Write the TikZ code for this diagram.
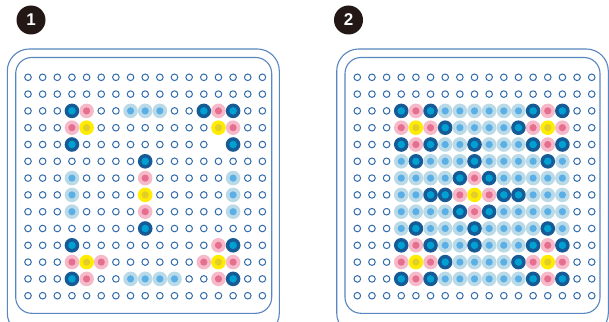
\documentclass[tikz,border=0pt]{standalone}
\usepackage{fontspec}
\newfontfamily\badgefont{Liberation Sans}
\definecolor{pegcol}{RGB}{50,108,170}
\definecolor{framecol}{RGB}{88,134,190}
\definecolor{darkout}{RGB}{22,90,150}
\definecolor{darkin}{RGB}{0,160,210}
\definecolor{pinkout}{RGB}{245,185,202}
\definecolor{pinkin}{RGB}{230,110,142}
\definecolor{yelout}{RGB}{255,236,0}
\definecolor{yelin}{RGB}{226,206,40}
\definecolor{lightout}{RGB}{186,218,232}
\definecolor{lightin}{RGB}{90,175,230}
\definecolor{badgecol}{RGB}{35,24,21}
\tikzset{
  frame/.style={draw=framecol, line width=1.1pt},
  badge/.style={circle, fill=badgecol, text=white, minimum size=29pt, inner sep=0pt,
    font=\badgefont\bfseries\fontsize{17}{17}\selectfont},
  peg/.pic={\draw[draw=pegcol, line width=1pt, fill=white] (0,0) circle[radius=3.3pt];},
  dbead/.pic={\fill[fill=darkout] (0,0) circle[radius=7.3pt]; \fill[fill=darkin] (0,0) circle[radius=3.8pt];},
  pbead/.pic={\fill[fill=pinkout] (0,0) circle[radius=7.3pt]; \fill[fill=pinkin] (0,0) circle[radius=3.6pt];},
  ybead/.pic={\fill[fill=yelout] (0,0) circle[radius=7.3pt]; \fill[fill=yelin] (0,0) circle[radius=3.6pt];},
  lbead/.pic={\fill[fill=lightout] (0,0) circle[radius=7.3pt]; \fill[fill=lightin] (0,0) circle[radius=3.6pt];},
}
% #1 = x of first column, #2 = row index, #3 = 17 comma-separated types
\newcommand\myrow[3]{%
  \foreach \t [count=\c from 0] in {#3} {
    \if\t D \pic at ({#1+\c*14.65},{77.3+#2*16.8}) {dbead};\fi
    \if\t P \pic at ({#1+\c*14.65},{77.3+#2*16.8}) {pbead};\fi
    \if\t Y \pic at ({#1+\c*14.65},{77.3+#2*16.8}) {ybead};\fi
    \if\t L \pic at ({#1+\c*14.65},{77.3+#2*16.8}) {lbead};\fi
    \if\t o \pic at ({#1+\c*14.65},{77.3+#2*16.8}) {peg};\fi
  }%
}
\begin{document}
\begin{tikzpicture}[x=1pt,y=-1pt]
\useasboundingbox (0,0) rectangle (609,321);
\clip (0,0) rectangle (609,321);
\fill[white] (0,0) rectangle (609,321);

% badges
\node[badge] (n1) at (31,20) {1};
\node[badge] (n2) at (348.5,20) {2};

% frames
\draw[frame, rounded corners=22pt] (7.3,49) rectangle (279.3,335);
\draw[frame, rounded corners=16pt] (15.7,57.5) rectangle (271.7,313.3);
\draw[frame, rounded corners=22pt] (336.7,49) rectangle (608.3,335);
\draw[frame, rounded corners=16pt] (345,57.5) rectangle (600,313.3);

% panel 1
\myrow{28}{0}{o,o,o,o,o,o,o,o,o,o,o,o,o,o,o,o,o}
\myrow{28}{1}{o,o,o,o,o,o,o,o,o,o,o,o,o,o,o,o,o}
\myrow{28}{2}{o,o,o,D,P,o,o,L,L,L,o,o,D,P,D,o,o}
\myrow{28}{3}{o,o,o,P,Y,o,o,o,o,o,o,o,o,Y,P,o,o}
\myrow{28}{4}{o,o,o,D,o,o,o,o,o,o,o,o,o,x,D,o,o}
\myrow{28}{5}{o,o,o,o,o,o,o,o,D,o,o,o,o,o,o,o,o}
\myrow{28}{6}{o,o,o,L,o,o,o,o,P,o,o,o,o,o,L,o,o}
\myrow{28}{7}{o,o,o,L,o,o,o,o,Y,o,o,o,o,o,L,o,o}
\myrow{28}{8}{o,o,o,L,o,o,o,o,P,o,o,o,o,o,L,o,o}
\myrow{28}{9}{o,o,o,o,o,o,o,o,D,o,o,o,o,o,o,o,o}
\myrow{28}{10}{o,o,o,D,o,o,o,o,o,o,o,o,o,P,D,o,o}
\myrow{28}{11}{o,o,o,P,Y,P,o,o,o,o,o,o,P,Y,P,o,o}
\myrow{28}{12}{o,o,o,D,P,o,o,L,L,L,L,o,o,P,D,o,o}
\myrow{28}{13}{o,o,o,o,o,o,o,o,o,o,o,o,o,o,o,o,o}

% panel 2
\myrow{357.3}{0}{o,o,o,o,o,o,o,o,o,o,o,o,o,o,o,o,o}
\myrow{357.3}{1}{o,o,o,o,o,o,o,o,o,o,o,o,o,o,o,o,o}
\myrow{357.3}{2}{o,o,o,D,P,D,L,L,L,L,L,L,D,P,D,o,o}
\myrow{357.3}{3}{o,o,o,P,Y,P,D,L,L,L,L,D,P,Y,P,o,o}
\myrow{357.3}{4}{o,o,o,D,P,D,L,L,D,L,L,L,D,P,D,o,o}
\myrow{357.3}{5}{o,o,o,L,D,L,L,L,D,L,L,L,L,D,L,o,o}
\myrow{357.3}{6}{o,o,o,L,L,L,L,D,P,D,L,L,L,L,L,o,o}
\myrow{357.3}{7}{o,o,o,L,L,D,D,P,Y,P,D,D,L,L,L,o,o}
\myrow{357.3}{8}{o,o,o,L,L,L,L,D,P,D,L,L,L,L,L,o,o}
\myrow{357.3}{9}{o,o,o,L,D,L,L,L,D,L,L,L,L,D,L,o,o}
\myrow{357.3}{10}{o,o,o,D,P,D,L,L,D,L,L,L,D,P,D,o,o}
\myrow{357.3}{11}{o,o,o,P,Y,P,D,L,L,L,L,D,P,Y,P,o,o}
\myrow{357.3}{12}{o,o,o,D,P,D,L,L,L,L,L,L,D,P,D,o,o}
\myrow{357.3}{13}{o,o,o,o,o,o,o,o,o,o,o,o,o,o,o,o,o}
\end{tikzpicture}
\end{document}
